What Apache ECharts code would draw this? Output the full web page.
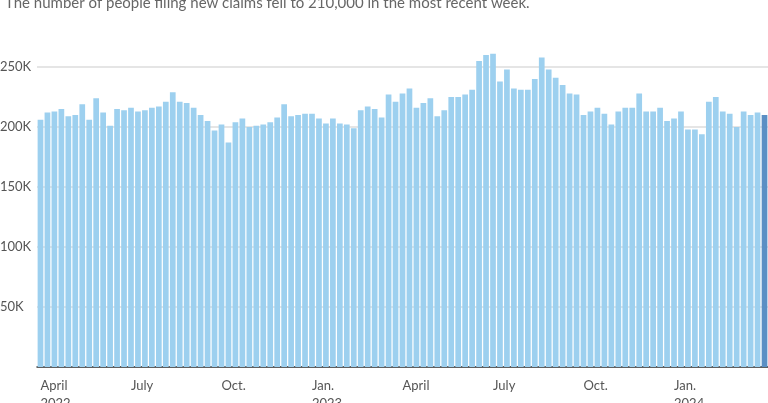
<!DOCTYPE html>
<html><head><meta charset="utf-8">
<script src="https://cdn.jsdelivr.net/npm/echarts@6/dist/echarts.min.js"></script>
<style>html,body{margin:0;padding:0;background:#fff}#c{width:768px;height:403px}</style>
</head><body><div id="c"></div>
<script>
const values = [206,212,213,215,209,210,219,206,224,212,201,215,214,216,213,214,216,217,221,229,221,220,216,210,205,197,202,187,204,207,
200,201,202,204,208,219,209,210,211,211,207,203,207,203,202,199,214,217,215,208,227,221,228,232,216,220,224,209,214,225,225,227,231,255,260,261,238,248,
232,231,231,240,258,248,241,235,228,227,210,213,216,211,202,213,216,216,228,213,213,216,205,207,213,198,198,194,221,225,213,211,200,213,210,212,210];
const tickLabels = {0:'April\n2022',13:'July',26:'Oct.',39:'Jan.\n2023',52:'April',65:'July',78:'Oct.',91:'Jan.\n2024'};
const yTicks = [50,100,150,200,250];
const subtitle = 'The number of people filing new claims fell to 210,000 in the most recent week.';
const categories = values.map((v,i)=>'w'+i);
const chart = echarts.init(document.getElementById('c'));
chart.setOption({
  animation:false,
  title:{text:subtitle,left:0,top:-9,textStyle:{fontFamily:'Lato',fontSize:15,fontWeight:'normal',color:'#666'}},
  grid:{left:37,right:0,top:67,bottom:36,containLabel:false,outerBoundsMode:'none'},
  xAxis:{type:'category',data:categories,
    axisLine:{lineStyle:{color:'#333',width:1.5}},axisTick:{show:false},
    axisLabel:{interval:0,align:'left',margin:10,lineHeight:18,fontFamily:'Lato',fontSize:13,color:'#555',
      formatter:(v,i)=>tickLabels[i]||''}},
  yAxis:{type:'value',min:0,max:250,interval:50,
    splitLine:{lineStyle:{color:'#ddd',width:1.5}},axisLine:{show:false},axisTick:{show:false},
    axisLabel:{fontFamily:'Lato',fontSize:13,color:'#555',align:'left',margin:37,
      formatter:v=>yTicks.includes(v)?v+'K':''}},
  series:[{type:'bar',barCategoryGap:'18%',clip:false,
    data:values.map((v,i)=>({value:v,itemStyle:{color:i===values.length-1?'#5b8fc4':'#9dd0ef'}}))}]
});
</script></body></html>
